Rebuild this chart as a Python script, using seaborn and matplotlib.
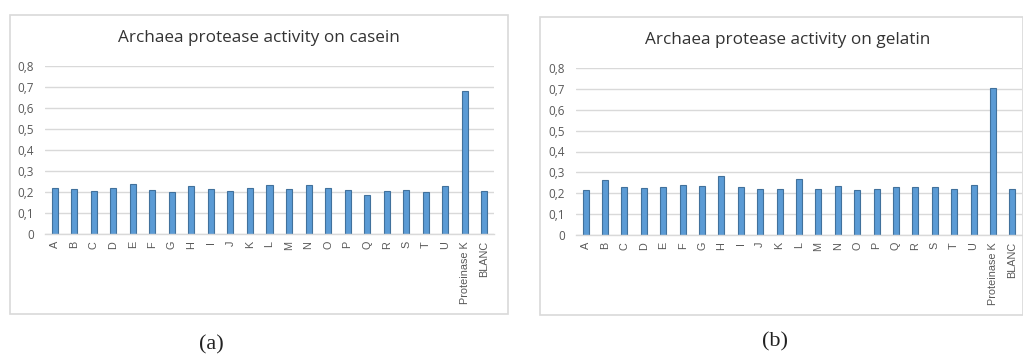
import matplotlib
matplotlib.use("Agg")
import matplotlib.pyplot as plt
import matplotlib.patches as mpatches
from matplotlib.ticker import FuncFormatter, MultipleLocator
import seaborn as sns
import pandas as pd

categories = list("ABCDEFGHIJKLMNOPQRSTU") + ["Proteinase K", "BLANC"]

casein = [0.22, 0.215, 0.205, 0.22, 0.24, 0.21, 0.20, 0.23, 0.215, 0.205,
          0.22, 0.235, 0.215, 0.235, 0.22, 0.21, 0.185, 0.205, 0.21, 0.20,
          0.23, 0.68, 0.205]

gelatin = [0.215, 0.265, 0.23, 0.225, 0.23, 0.24, 0.235, 0.285, 0.23, 0.22,
           0.22, 0.27, 0.22, 0.235, 0.215, 0.22, 0.23, 0.23, 0.23, 0.22,
           0.24, 0.705, 0.22]

titles = ["Archaea protease activity on casein",
          "Archaea protease activity on gelatin"]
captions = ["(a)", "(b)"]

sns.set_theme(style="white")
plt.rcParams["font.family"] = ["Liberation Sans", "DejaVu Sans"]

W, H = 1023, 356
fig = plt.figure(figsize=(W / 100, H / 100), dpi=100)

BAR = "#5B9BD5"
EDGE = "#41719C"
GRID = "#D9D9D9"


def px_axes(x0, y_top, x1, y_bot):
    return fig.add_axes([x0 / W, 1 - y_bot / H, (x1 - x0) / W, (y_bot - y_top) / H])


def frame(x0, y0, x1, y1):
    fig.add_artist(mpatches.Rectangle((x0 / W, 1 - y1 / H), (x1 - x0) / W, (y1 - y0) / H,
                                      transform=fig.transFigure, fill=False,
                                      edgecolor=GRID, linewidth=1.2))


panels = [
    dict(vals=casein, ax=(45, 66, 494, 234), frame=(10, 15, 508, 314),
         title_xy=(259, 38), cap_xy=(211, 345)),
    dict(vals=gelatin, ax=(576, 68, 1022, 235), frame=(540, 17, 1023, 315),
         title_xy=(788, 40), cap_xy=(775, 342)),
]

for i, p in enumerate(panels):
    frame(*p["frame"])
    ax = px_axes(*p["ax"])
    df = pd.DataFrame({"sample": categories, "activity": p["vals"]})
    sns.barplot(data=df, x="sample", y="activity", ax=ax, color=BAR,
                saturation=1, width=0.31, edgecolor=EDGE, linewidth=0.8)
    ax.set_xlim(-0.5, len(categories) - 0.5)
    ax.set_ylim(0, 0.8)
    ax.yaxis.set_major_locator(MultipleLocator(0.1))
    ax.yaxis.set_major_formatter(FuncFormatter(
        lambda v, _: "0" if abs(v) < 1e-9 else f"{v:.1f}".replace(".", ",")))
    ax.grid(axis="y", color=GRID, linewidth=1.0)
    ax.set_axisbelow(True)
    for s in ["top", "right", "left"]:
        ax.spines[s].set_visible(False)
    ax.spines["bottom"].set_color(GRID)
    ax.spines["bottom"].set_linewidth(1.0)
    ax.tick_params(axis="both", length=0, colors="#595959")
    ax.tick_params(axis="y", labelsize=8.5, pad=8)
    ax.tick_params(axis="x", labelsize=7.8, pad=5)
    for lab in ax.get_yticklabels():
        lab.set_family("Open Sans")
    plt.setp(ax.get_xticklabels(), rotation=90)
    ax.set_xlabel("")
    ax.set_ylabel("")
    fig.text(p["title_xy"][0] / W, 1 - p["title_xy"][1] / H, titles[i],
             ha="center", va="center", fontsize=12.3, color="#333333",
             family="Open Sans")
    fig.text(p["cap_xy"][0] / W, 1 - p["cap_xy"][1] / H, captions[i],
             ha="center", va="center", fontsize=16, color="#222222",
             family="Liberation Serif")

fig.savefig("out.png", dpi=100, facecolor="white")
